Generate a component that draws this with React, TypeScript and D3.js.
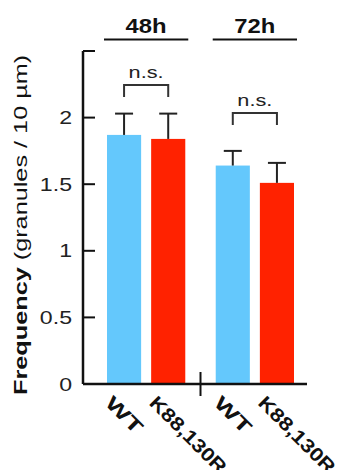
import React from "react";
import * as d3 from "d3";

const groups = ["48h", "72h"];
const genotypes = ["WT", "K88,130R"];
const wtMeans = [1.87, 1.64];
const mutMeans = [1.84, 1.51];
const wtSem = [0.16, 0.11];
const mutSem = [0.19, 0.15];
const sigLabels = ["n.s.", "n.s."];
const sigLevels = [2.245, 2.035];
const sigLegDrop = [0.09, 0.09];
const yTicks = [0, 0.5, 1, 1.5, 2, 2.5];
const yTickLabels = ["0", "0.5", "1", "1.5", "2", ""];
const barColors = ["#64c8fc", "#ff2200"];

const FONT = "'Liberation Sans', Arial, Helvetica, sans-serif";

export default function App() {
  const W = 344;
  const H = 470;
  const y = d3.scaleLinear().domain([0, 2.5]).range([384, 51]);
  const x0 = d3
    .scaleBand<string>()
    .domain(groups)
    .range([107, 294])
    .paddingInner(0.28)
    .paddingOuter(0);
  const x1 = d3
    .scaleBand<string>()
    .domain(genotypes)
    .range([0, x0.bandwidth()])
    .paddingInner(0.227)
    .paddingOuter(0);

  const axisX0 = 83;
  const axisX1 = 307;
  const y0 = y(0);
  const midX = (x0(groups[0])! + x0.bandwidth() + x0(groups[1])!) / 2;

  const series = [
    { means: wtMeans, sem: wtSem },
    { means: mutMeans, sem: mutSem },
  ];

  return (
    <svg
      width={W}
      height={H}
      style={{ position: "absolute", left: 0, top: 0, background: "#fff" }}
      fontFamily={FONT}
    >
      {/* bars */}
      {groups.map((g, gi) =>
        genotypes.map((gt, si) => {
          const bx = x0(g)! + x1(gt)!;
          const bw = x1.bandwidth();
          const v = series[si].means[gi];
          return (
            <rect
              key={g + gt}
              x={bx}
              y={y(v)}
              width={bw}
              height={y0 - y(v)}
              fill={barColors[si]}
            />
          );
        })
      )}
      {/* error bars */}
      {groups.map((g, gi) =>
        genotypes.map((gt, si) => {
          const cx = x0(g)! + x1(gt)! + x1.bandwidth() / 2;
          const v = series[si].means[gi];
          const top = v + series[si].sem[gi];
          return (
            <g key={"e" + g + gt} stroke="#222" strokeWidth={2}>
              <line x1={cx} x2={cx} y1={y(v)} y2={y(top)} />
              <line x1={cx - 9} x2={cx + 9} y1={y(top)} y2={y(top)} />
            </g>
          );
        })
      )}
      {/* significance brackets */}
      {groups.map((g, gi) => {
        const xa = x0(g)! + x1(genotypes[0])! + x1.bandwidth() / 2;
        const xb = x0(g)! + x1(genotypes[1])! + x1.bandwidth() / 2;
        const yl = y(sigLevels[gi]);
        const yd = y(sigLevels[gi] - sigLegDrop[gi]);
        return (
          <g key={"s" + g}>
            <path
              d={`M${xa},${yd}V${yl}H${xb}V${yd}`}
              fill="none"
              stroke="#333"
              strokeWidth={2}
            />
            <text
              x={(xa + xb) / 2}
              y={yl - 7}
              textAnchor="middle"
              fontSize={17}
              fill="#222"
              textLength={35}
              lengthAdjust="spacingAndGlyphs"
            >
              {sigLabels[gi]}
            </text>
          </g>
        );
      })}
      {/* group labels */}
      {groups.map((g) => {
        const gx = x0(g)!;
        const cx = gx + x0.bandwidth() / 2;
        return (
          <g key={"g" + g}>
            <text
              x={cx}
              y={33}
              textAnchor="middle"
              fontSize={20}
              fontWeight="bold"
              fill="#111"
              textLength={41}
              lengthAdjust="spacingAndGlyphs"
            >
              {g}
            </text>
            <line
              x1={gx - 3}
              x2={gx + x0.bandwidth() + 3}
              y1={39.5}
              y2={39.5}
              stroke="#111"
              strokeWidth={2.2}
            />
          </g>
        );
      })}
      {/* y axis */}
      <line x1={axisX0} x2={axisX0} y1={y(2.5)} y2={y0} stroke="#111" strokeWidth={2.5} />
      {yTicks.map((t, i) => (
        <g key={"t" + t}>
          <line x1={axisX0} x2={axisX0 + 12} y1={y(t)} y2={y(t)} stroke="#111" strokeWidth={2} />
          {yTickLabels[i] !== "" && (
            <text
              transform={`translate(72,${y(t)}) scale(1.25,1)`}
              textAnchor="end"
              dy="0.36em"
              fontSize={18.5}
              fill="#222"
            >
              {yTickLabels[i]}
            </text>
          )}
        </g>
      ))}
      {/* x axis */}
      <line x1={axisX0} x2={axisX1} y1={y0} y2={y0} stroke="#111" strokeWidth={2.5} />
      <line x1={midX} x2={midX} y1={y0 - 12} y2={y0 + 12} stroke="#111" strokeWidth={2} />
      {/* x labels */}
      {groups.map((g) =>
        genotypes.map((gt, si) => {
          const cx = x0(g)! + x1(gt)! + x1.bandwidth() / 2;
          return (
            <text
              key={"xl" + g + gt}
              transform={`translate(${cx - 20},404) rotate(45)`}
              fontSize={19}
              fontWeight="bold"
              fill="#111"
              textLength={si === 0 ? 44 : 100}
              lengthAdjust="spacingAndGlyphs"
            >
              {gt}
            </text>
          );
        })
      )}
      {/* y title */}
      <g transform="translate(27,395) rotate(-90) scale(1.33,1)">
        <text x={0} y={0} fontSize={19} fill="#111">
          <tspan fontWeight="bold">Frequency</tspan>
          <tspan> (granules / 10 µm)</tspan>
        </text>
      </g>
    </svg>
  );
}
